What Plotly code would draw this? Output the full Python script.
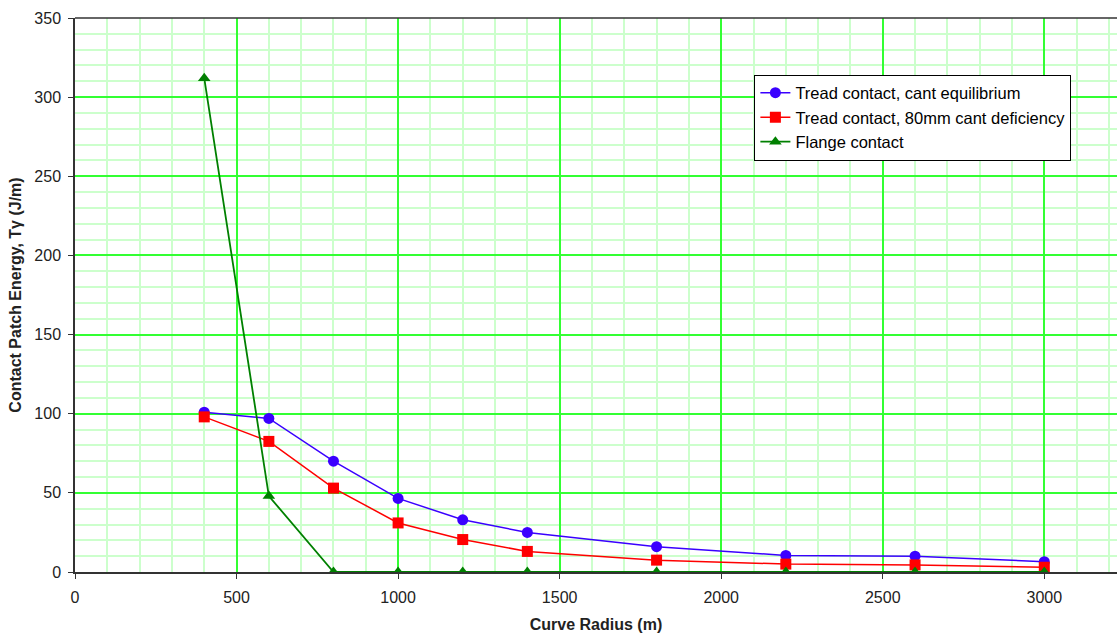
import plotly.graph_objects as go

radius = [400, 600, 800, 1000, 1200, 1400, 1800, 2200, 2600, 3000]
tread_eq = [101, 97, 70, 46.5, 33, 25, 16, 10.5, 10, 6.5]
tread_def = [98, 82.5, 53, 31, 20.5, 13, 7.5, 5, 4.5, 3]
flange = [312, 48, 0, 0, 0, 0, 0, 0, 0, 0]

names = ["Tread contact, cant equilibrium",
         "Tread contact, 80mm cant deficiency",
         "Flange contact"]

fig = go.Figure()
fig.add_trace(go.Scatter(x=radius, y=tread_eq, name=names[0], mode="lines+markers",
                         line=dict(color="#3a00ff", width=1.5),
                         marker=dict(symbol="circle", size=11, color="#3a00ff")))
fig.add_trace(go.Scatter(x=radius, y=tread_def, name=names[1], mode="lines+markers",
                         line=dict(color="#ff0000", width=1.5),
                         marker=dict(symbol="square", size=11, color="#ff0000")))
fig.add_trace(go.Scatter(x=radius, y=flange, name=names[2], mode="lines+markers",
                         line=dict(color="#008000", width=1.8),
                         marker=dict(symbol="triangle-up", size=11, color="#008000")))

fig.update_layout(
    width=1117, height=635,
    margin=dict(l=75, r=0, t=18, b=63),
    paper_bgcolor="white", plot_bgcolor="white",
    font=dict(family="Liberation Sans, Arial", size=16, color="#222"),
    showlegend=True,
    legend=dict(x=0.652, y=0.898, xanchor="left", yanchor="top",
                bgcolor="white", bordercolor="black", borderwidth=1,
                font=dict(size=16.5, color="black"), tracegroupgap=0),
    xaxis=dict(range=[0, 3225], dtick=500, tick0=0,
               showgrid=True, gridcolor="#33ff33", gridwidth=2,
               minor=dict(dtick=100, showgrid=True, gridcolor="#ccffcc", gridwidth=1.5),
               showline=True, linecolor="#333", linewidth=1.5,
               ticks="outside", ticklen=5, tickcolor="#333",
               ticklabelstandoff=5,
               zeroline=False, automargin=False,
               title=dict(text="<b>Curve Radius (m)</b>", font=dict(size=16, color="#222"), standoff=14)),
    yaxis=dict(range=[0, 350], dtick=50, tick0=0,
               showgrid=True, gridcolor="#33ff33", gridwidth=2,
               minor=dict(dtick=10, showgrid=True, gridcolor="#ccffcc", gridwidth=1.5),
               showline=True, linecolor="#333", linewidth=1.5,
               ticks="outside", ticklen=5, tickcolor="#333",
               ticklabelstandoff=4,
               zeroline=False, automargin=False,
               title=dict(text="<b>Contact Patch Energy, Tγ (J/m)</b>", font=dict(size=16, color="#222"), standoff=9)),
)
fig.add_shape(type="line", xref="paper", yref="paper", x0=0, x1=1, y0=1, y1=1,
              line=dict(color="#333", width=1.5))

fig.write_html("out.html",
               config={"displayModeBar": False},
               post_script="document.body.style.margin='0';document.body.style.overflow='hidden';")
